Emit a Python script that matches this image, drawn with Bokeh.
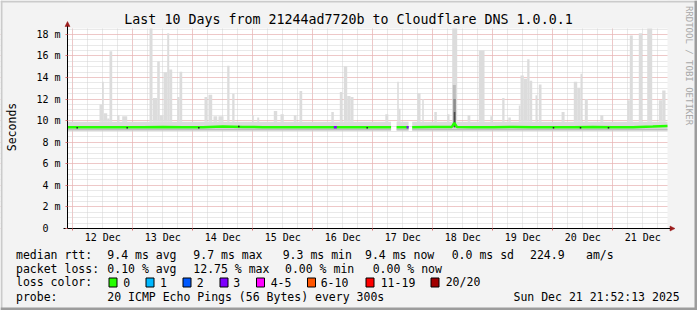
import math
from bokeh.plotting import figure
from bokeh.models import Range1d, FixedTicker, Label, LinearAxis, Arrow, NormalHead
from bokeh.embed import file_html
from bokeh.resources import INLINE

# ---------------- data (time = hours from 12 Dec 00:00, values in ms) ----------------
T0, T1 = -2.13, 237.87          # 11 Dec 21:52:13 .. 21 Dec 21:52:13
YMAX = 18.55

day_ticks = [0, 24, 48, 72, 96, 120, 144, 168, 192, 216]
label_hours = [12, 36, 60, 84, 108, 132, 156, 180, 204, 228]
day_labels = ["12 Dec", "13 Dec", "14 Dec", "15 Dec", "16 Dec",
              "17 Dec", "18 Dec", "19 Dec", "20 Dec", "21 Dec"]
six_hours = [h for h in range(0, 240, 6)]
y_ticks = [0, 2, 4, 6, 8, 10, 12, 14, 16, 18]
y_tick_labels = ["0\u00a0\u00a0", "2 m", "4 m", "6 m", "8 m",
                 "10 m", "12 m", "14 m", "16 m", "18 m"]
y_minor = [i * 0.5 for i in range(38)]

# base smoke band
band_start = [T0, 129.5, 135.75]
band_end = [127.3, 134.3, T1]
band_lo = [9.08, 9.08, 9.08]
band_hi = [9.9, 9.9, 9.9]
band_dark_hi = [9.25, 9.25, 9.25]

# smoke spikes (max ping per consolidated interval)
spike_start = [10.67, 11.67, 12.39, 13.75, 14.67, 17.75, 19.75, 30.67, 32.07, 33.75,
               34.79, 36.27, 37.75, 38.55, 41.75, 42.67, 52.67, 54.27, 56.27, 58.27,
               61.75, 63.75, 71.75, 73.75, 80.39, 83.07, 88.39, 90.67, 103.4, 106.79, 108.39,
               109.75, 111.07, 125.0, 129.75, 130.39, 137.75, 139.75, 144.6, 149.75, 151.75,
               157.9, 162.39, 167.0, 171.75, 174.2,
               178.39, 179.07, 180.39, 181.75, 182.67, 185.07, 186.39, 195.5, 200.39, 201.75,
               203.07, 204.79, 211.0, 215.2, 221.75, 222.79, 226.39, 229.75, 234.39, 235.75]
spike_end = [11.67, 12.39, 13.75, 14.67, 15.75, 18.67, 21.75, 31.87, 33.75, 34.79,
             36.27, 37.75, 38.55, 39.75, 42.67, 43.75, 53.75, 55.75, 57.75, 60.27,
             62.67, 64.67, 72.39, 74.55, 81.75, 84.39, 89.47, 91.75, 104.4, 107.75, 109.75,
             111.07, 112.27, 126.2, 130.39, 131.07, 139.07, 140.39, 145.6, 150.67, 153.75,
             159.0, 164.67, 168.0, 172.67, 175.2,
             179.07, 180.39, 181.75, 182.67, 183.75, 185.75, 187.47, 196.7, 201.75, 203.07,
             203.75, 205.99, 212.2, 216.0, 222.79, 223.99, 227.75, 231.75, 235.75, 237.07]
spike_top = [11.5, 13.6, 10.7, 10.2, 16.45, 10.5, 10.4, 18.55, 12.1, 15.5,
             10.5, 14.5, 18.1, 14.75, 12.2, 14.55, 12.2, 12.4, 10.4, 10.4,
             15.1, 12.5, 10.5, 10.3, 10.9, 10.6, 10.5, 12.75, 10.8, 12.65, 15.05,
             12.3, 12.2, 10.6, 13.6, 11.1, 12.55, 12.0, 10.8, 10.6, 18.55,
             10.5, 16.5, 10.4, 12.1, 10.3,
             11.4, 14.2, 13.9, 15.7, 13.7, 12.35, 13.35, 10.8, 13.6, 13.05,
             14.35, 12.0, 10.5, 9.9, 11.9, 17.9, 18.1, 18.55, 11.9, 12.8]

# darker smoke core at the 18 Dec spike
core_start = [152.0, 152.2, 152.4]
core_end = [153.2, 153.2, 153.0]
core_top = [13.3, 12.0, 10.8]
core_color = ["#bdbdbd", "#8c8c8c", "#4a4a4a"]

# median rtt (NaN = no data)
med_time = [T0, 4, 12, 20, 28, 36, 44, 52, 60, 68, 76, 84, 92, 100, 108, 116, 124, 127.3,
            128.4, 129.5, 134.3, 135.0, 135.75, 144, 151.6, 152.6, 153.6, 160, 168, 176,
            184, 192, 200, 208, 216, 224, 232, T1]
med_val = [9.38, 9.38, 9.40, 9.38, 9.40, 9.42, 9.40, 9.40, 9.45, 9.42, 9.40, 9.38, 9.40,
           9.38, 9.40, 9.40, 9.38, 9.38, float("nan"), 9.40, 9.40, float("nan"), 9.40, 9.42,
           9.42, 9.80, 9.42, 9.40, 9.40, 9.42, 9.40, 9.38, 9.40, 9.42, 9.38, 9.40, 9.45, 9.50]

# median segments coloured by packet loss
loss_start = [104.4, 133.5]
loss_end = [105.6, 134.3]
loss_val = [9.4, 9.4]
loss_seg_color = ["#7e00ff", "#7e00ff"]

# isolated dark smoke pixels on the median
dot_time = [1.75, 21.75, 50.39, 66.39, 117.75, 192.27, 203.07, 214.27]
dot_val = [9.35, 9.35, 9.35, 9.45, 9.35, 9.35, 9.35, 9.35]

loss_names = ["0", "1", "2", "3", "4-5", "6-10", "11-19", "20/20"]
loss_colors = ["#26ff00", "#00b8ff", "#0059ff", "#7e00ff", "#ff00ff", "#ff5500", "#ff0000", "#a10000"]

legend_rows = [
    ["median rtt:", "9.4 ms avg", "9.7 ms max", "9.3 ms min", "9.4 ms now", "0.0 ms sd", "224.9", "am/s"],
    ["packet loss:", "0.10 % avg", "12.75 % max", "0.00 % min", "0.00 % now"],
    ["probe:", "20 ICMP Echo Pings (56 Bytes) every 300s", "Sun Dec 21 21:52:13 2025"],
]

# ---------------- geometry (canvas pixels) ----------------
W, H = 697, 310
FL, FR, FT, FB = 67, 667, 28, 228     # graph area inside the canvas
MONO = "DejaVu Sans Mono"
BG = "#f3f3f3"
SHADE_A, SHADE_B = "#cbcbcb", "#9c9c9c"
ARROW = "#9b1b1b"


def cx(px):
    return T0 + (px - FL) / (FR - FL) * (T1 - T0)


def cy(py):
    return YMAX - (py - FT) / (FB - FT) * YMAX


# the frame covers the whole canvas; the graph area is the region T0..T1 x 0..YMAX
p = figure(width=W, height=H, output_backend="svg", toolbar_location=None,
           x_range=Range1d(cx(0), cx(W)), y_range=Range1d(cy(H), cy(0)),
           x_axis_location=None, y_axis_location=None, min_border=0,
           background_fill_color="white", border_fill_color=BG, outline_line_color=None)

# grids
p.xgrid.ticker = FixedTicker(ticks=day_ticks, minor_ticks=six_hours)
p.ygrid.ticker = FixedTicker(ticks=y_ticks, minor_ticks=y_minor)
for g in list(p.xgrid) + list(p.ygrid):
    g.grid_line_color = "#f2a6a6"
    g.grid_line_dash = "1 1"
    g.minor_grid_line_color = "#d2d2d2"
    g.minor_grid_line_dash = "1 1"

# canvas margins around the graph area (cover the grid outside it)
p.quad(left=[cx(0), T1, cx(0), cx(0)], right=[T0, cx(W), cx(W), cx(W)],
       bottom=[cy(H), cy(H), YMAX, cy(H)], top=[cy(0), cy(0), cy(0), 0],
       fill_color=BG, line_color=None)
# bevelled border
p.quad(left=[cx(0), cx(0)], right=[cx(W), cx(2)], bottom=[cy(2), cy(H)], top=[cy(0), cy(0)],
       fill_color=SHADE_A, line_color=None)
p.quad(left=[cx(W - 3), cx(0)], right=[cx(W), cx(W)], bottom=[cy(H), cy(H)], top=[cy(0), cy(H - 3)],
       fill_color=SHADE_B, line_color=None)

# axes (drawn at fixed locations inside the canvas-sized frame)
xaxis = LinearAxis(fixed_location=0, bounds=(cx(63), cx(669)),
                   ticker=FixedTicker(ticks=label_hours, minor_ticks=day_ticks))
xaxis.major_label_overrides = dict(zip(label_hours, day_labels))
xaxis.major_tick_line_color = None
xaxis.major_tick_out = 0
xaxis.major_tick_in = 0
xaxis.minor_tick_out = 2
xaxis.minor_tick_in = 0
xaxis.minor_tick_line_color = "#e07070"
xaxis.axis_line_color = "#000000"
xaxis.major_label_text_font = MONO
xaxis.major_label_text_font_size = "10px"
xaxis.major_label_text_color = "#000000"
xaxis.major_label_standoff = 1
p.add_layout(xaxis, "below")

yaxis = LinearAxis(fixed_location=T0, bounds=(0, cy(25)), ticker=FixedTicker(ticks=y_ticks))
yaxis.major_label_overrides = dict(zip(y_ticks, y_tick_labels))
yaxis.major_tick_out = 2
yaxis.major_tick_in = 0
yaxis.major_tick_line_color = "#e07070"
yaxis.minor_tick_line_color = None
yaxis.axis_line_color = "#000000"
yaxis.major_label_text_font = MONO
yaxis.major_label_text_font_size = "10px"
yaxis.major_label_text_color = "#000000"
yaxis.major_label_standoff = 5
p.add_layout(yaxis, "left")

# smoke
p.quad(left=band_start, right=band_end, bottom=band_lo, top=band_hi,
       fill_color="#dcdcdc", line_color=None)
p.quad(left=spike_start, right=spike_end, bottom=[band_hi[0]] * len(spike_top), top=spike_top,
       fill_color="#dcdcdc", line_color=None)
p.quad(left=band_start, right=band_end, bottom=band_lo, top=band_dark_hi,
       fill_color="#bdbdbd", line_color=None)
p.quad(left=core_start, right=core_end, bottom=[9.4] * len(core_top), top=core_top,
       fill_color=core_color, line_color=None)

# median, coloured by loss
p.line(med_time, med_val, line_color="#26ff00", line_width=2.5)
p.segment(x0=loss_start, y0=loss_val, x1=loss_end, y1=loss_val,
          line_color=loss_seg_color, line_width=2.5)
p.scatter(dot_time, dot_val, marker="square", size=1.5, fill_color="#202020", line_color=None)

# axis arrows
p.add_layout(Arrow(x_start=T0, y_start=YMAX, x_end=T0, y_end=cy(21), line_color="#000000", line_width=1,
                   end=NormalHead(size=5, fill_color=ARROW, line_color=ARROW, line_width=0.5)))
p.add_layout(Arrow(x_start=T1, y_start=0, x_end=cx(674.5), y_end=0, line_color="#000000", line_width=1,
                   end=NormalHead(size=5, fill_color=ARROW, line_color=ARROW, line_width=0.5)))


def txt(px, py, s, size="11.5px", align="left", color="#000000", angle=0.0):
    p.add_layout(Label(x=cx(px), y=cy(py), text=s, text_font=MONO, text_font_size=size,
                       text_align=align, text_baseline="middle", text_color=color, angle=angle))


# title, unit, watermark
txt(348, 19, "Last 10 Days from 21244ad7720b to Cloudflare DNS 1.0.0.1", size="13.3px", align="center")
txt(11, 126.5, "Seconds", align="center", angle=math.pi / 2)
txt(688.5, 65, "RRDTOOL / TOBI OETIKER", size="9px", align="center", color="#a8a8a8", angle=-math.pi / 2)

# legend
row_y = [254.3, 268.3, 296.0]
row_x = [[15.5, 106.8, 192.8, 282.2, 364.5, 451.2, 529.5, 585.5],
         [15.5, 106.8, 192.8, 284.5, 372.2],
         [15.5, 106.8, 513.0]]
for yy, xs, items in zip(row_y, row_x, legend_rows):
    for xx, s in zip(xs, items):
        txt(xx, yy, s)

L3 = 281.9
txt(15.5, L3, "loss color:")
box_left = [108.5, 145.5, 182.5, 219.5, 256.0, 307.0, 365.5, 430.5]
name_left = [122.8, 159.5, 196.2, 232.8, 270.2, 320.2, 380.2, 445.2]
p.quad(left=[cx(b) for b in box_left], right=[cx(b + 8) for b in box_left],
       top=[cy(277.5)] * 8, bottom=[cy(286.5)] * 8,
       fill_color=loss_colors, line_color="#000000", line_width=1)
for nl, nm in zip(name_left, loss_names):
    txt(nl, L3, nm)

open("out.html", "w").write(file_html(p, INLINE))
